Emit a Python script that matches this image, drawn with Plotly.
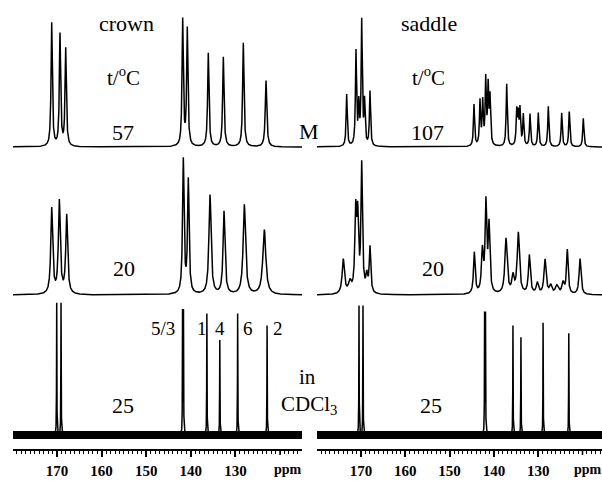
import numpy as np
import plotly.graph_objects as go

# ---------------- data ----------------
# each spectrum: peak positions (ppm), relative heights, half-widths (ppm)
crown57_ppm = [171.19, 169.33, 168.05, 141.82, 140.79, 136.08, 132.71, 128.23, 123.14]
crown57_amp = [0.95, 0.86, 0.75, 0.97, 0.90, 0.72, 0.69, 0.80, 0.51]
crown57_hw = [0.17, 0.17, 0.17, 0.17, 0.17, 0.18, 0.18, 0.18, 0.2]

saddle107_ppm = [173.23, 171.13, 170.5, 169.84, 169.2, 167.97,
                 144.49, 143.14, 142.53, 141.85, 141.3, 140.88,
                 137.11, 134.85, 134.5, 134.11, 133.36, 131.85, 129.98,
                 127.72, 124.7, 122.98, 119.82]
saddle107_amp = [0.40, 0.72, 0.30, 0.95, 0.33, 0.42,
                 0.32, 0.34, 0.33, 0.50, 0.44, 0.36,
                 0.48, 0.26, 0.22, 0.27, 0.24, 0.25, 0.26,
                 0.31, 0.26, 0.27, 0.22]
saddle107_hw = [0.15] * 23

crown20_ppm = [171.19, 169.48, 167.83, 141.68, 140.56, 135.7, 132.56, 128.0, 123.52]
crown20_amp = [0.62, 0.67, 0.57, 0.97, 0.82, 0.72, 0.60, 0.65, 0.47]
crown20_hw = [0.25, 0.25, 0.25, 0.2, 0.2, 0.28, 0.25, 0.32, 0.4]

saddle20_ppm = [174.0, 172.5, 171.2, 170.75, 169.84, 168.7, 167.97,
                144.42, 142.6, 141.8, 141.1, 137.27, 135.7, 134.49,
                132.0, 130.2, 128.46, 127.2, 125.8, 124.4, 123.43, 120.56]
saddle20_amp = [0.25, 0.08, 0.56, 0.52, 0.92, 0.12, 0.33,
                0.30, 0.30, 0.64, 0.48, 0.40, 0.12, 0.44,
                0.28, 0.08, 0.25, 0.06, 0.06, 0.08, 0.32, 0.26]
saddle20_hw = [0.3, 0.4, 0.22, 0.22, 0.2, 0.25, 0.2,
               0.22, 0.25, 0.22, 0.22, 0.3, 0.3, 0.3,
               0.25, 0.3, 0.28, 0.3, 0.4, 0.3, 0.22, 0.25]

crown25_ppm = [170.07, 169.1, 141.85, 141.65, 136.4, 133.5, 129.5, 122.9]
crown25_amp = [1.0, 1.0, 0.92, 0.92, 0.92, 0.72, 0.92, 0.83]

saddle25_ppm = [170.45, 169.55, 142.1, 141.9, 135.7, 133.9, 128.9, 123.1]
saddle25_amp = [0.98, 0.98, 0.90, 0.90, 0.83, 0.74, 0.85, 0.77]
stick_hw = 0.04

tick_vals = [170, 160, 150, 140, 130]
tick_text = ["170", "160", "150", "140", "130"]
unlabeled_major_tick = 120

stick_labels = ["5/3", "1", "4", "6", "2"]

# ---------------- layout helpers ----------------
W, H = 602, 481
FONT = "Liberation Serif, Times New Roman, serif"


def px(x):
    return x / W


def py(y):
    return 1 - y / H


def spectrum(grid, ppm, amp, hw):
    y = np.zeros_like(grid)
    for p, a, w in zip(ppm, amp, hw):
        y += a / (1 + ((grid - p) / w) ** 2)
    return y


grid = np.linspace(180.2, 115.0, 6521)

fig = go.Figure()
line = dict(color="black", width=1.5)

specs = [
    ("x", "y", spectrum(grid, crown57_ppm, crown57_amp, crown57_hw)),
    ("x2", "y2", spectrum(grid, saddle107_ppm, saddle107_amp, saddle107_hw)),
    ("x", "y3", spectrum(grid, crown20_ppm, crown20_amp, crown20_hw)),
    ("x2", "y4", spectrum(grid, saddle20_ppm, saddle20_amp, saddle20_hw)),
]
for xa, ya, yv in specs:
    fig.add_trace(go.Scatter(x=grid, y=yv, mode="lines", line=line,
                             xaxis=xa, yaxis=ya, hoverinfo="skip", showlegend=False))

# bottom (CDCl3) spectra: noise band + sharp lines
for xa, ya, ppm, amp in [("x", "y5", crown25_ppm, crown25_amp),
                         ("x2", "y6", saddle25_ppm, saddle25_amp)]:
    fig.add_trace(go.Scatter(x=[grid[0], grid[-1]], y=[0, 0], mode="lines",
                             line=dict(color="black", width=8),
                             xaxis=xa, yaxis=ya, hoverinfo="skip", showlegend=False))
    yv = spectrum(grid, ppm, amp, [stick_hw] * len(ppm))
    fig.add_trace(go.Scatter(x=grid, y=yv, mode="lines", line=dict(color="black", width=1.5),
                             xaxis=xa, yaxis=ya, hoverinfo="skip", showlegend=False))


def ydomain(pb, s, lo, hi):
    return [py(pb - lo * s), py(pb - hi * s)]


rows = {
    1: dict(pb=147, s=130, lo=-0.12, hi=1.05),
    2: dict(pb=295, s=138, lo=-0.10, hi=1.05),
    3: dict(pb=435, s=132, lo=-(449 - 435) / 132, hi=1.03),
}
yax = {}
for r, d in rows.items():
    for c in (0, 1):
        idx = (r - 1) * 2 + c + 1
        name = "yaxis" if idx == 1 else f"yaxis{idx}"
        yax[name] = dict(domain=ydomain(d["pb"], d["s"], d["lo"], d["hi"]),
                         range=[d["lo"], d["hi"]], visible=False,
                         showticklabels=False, showline=False, ticks="",
                         showgrid=False, zeroline=False,
                         anchor="x" if c == 0 else "x2", fixedrange=True)

xcommon = dict(showline=True, linecolor="black", linewidth=1.5,
               ticks="outside", ticklen=6, tickwidth=1.5, tickcolor="black",
               tickmode="array", tickvals=tick_vals, ticktext=tick_text,
               ticklabelstandoff=1,
               minor=dict(tickmode="linear", tick0=0, dtick=1, ticks="outside",
                          ticklen=3, tickwidth=1, tickcolor="black"),
               tickfont=dict(family=FONT, size=15, color="black", weight="bold"),
               showgrid=False, zeroline=False, fixedrange=True)

fig.update_layout(
    width=W, height=H, margin=dict(l=0, r=0, t=0, b=0),
    paper_bgcolor="white", plot_bgcolor="rgba(0,0,0,0)",
    xaxis=dict(domain=[px(13), px(302)], range=[179.87, 115.07], anchor="y5", **xcommon),
    xaxis2=dict(domain=[px(317), 1.0], range=[179.93, 115.6], anchor="y6", **xcommon),
    **yax,
)

# the unlabeled long tick at 120 ppm on each axis
shapes = []
for xr in ("x", "x2"):
    shapes.append(dict(type="line", xref=xr, yref="paper",
                       x0=unlabeled_major_tick, x1=unlabeled_major_tick,
                       y0=py(449), y1=py(455), line=dict(color="black", width=1.5)))
fig.update_layout(shapes=shapes)

ann = []


def text(x, y, t, size=20, bold=False):
    f = dict(family=FONT, size=size, color="black")
    if bold:
        f["weight"] = "bold"
    ann.append(dict(x=px(x), y=py(y), xref="paper", yref="paper", text=t,
                    showarrow=False, xanchor="center", yanchor="middle", font=f))


text(126, 23, "crown", 22)
text(429, 23, "saddle", 22)
text(123, 77, "t/<sup>o</sup>C", 21)
text(429, 77, "t/<sup>o</sup>C", 21)
text(123, 132, "57", 22)
text(427, 132, "107", 22)
text(309, 131, "M", 22)
text(124, 268, "20", 22)
text(433, 268, "20", 22)
text(123, 405, "25", 22)
text(431, 405, "25", 22)
text(307, 377, "in", 21)
text(309, 405, "CDCl<sub>3</sub>", 21)
for lab, xx in zip(stick_labels, [163, 202, 220, 248, 278]):
    text(xx, 328, lab, 19)
text(288, 469, "ppm", 14, bold=True)
text(588, 469, "ppm", 14, bold=True)
fig.update_layout(annotations=ann)

fig.write_html("out.html")
